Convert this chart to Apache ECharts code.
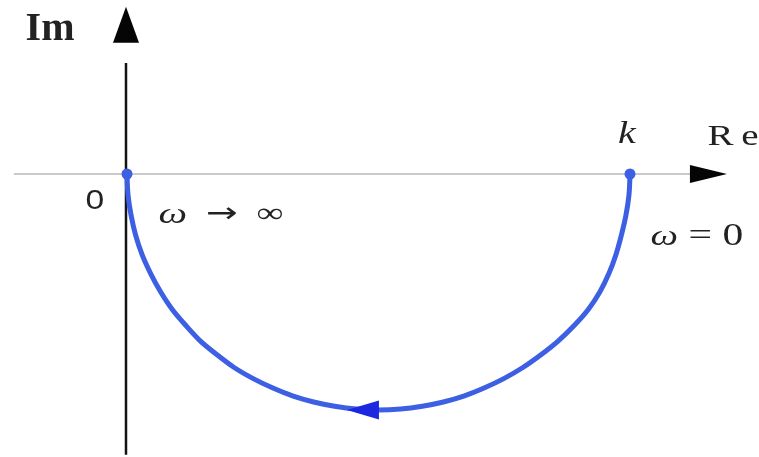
<!DOCTYPE html>
<html>
<head>
<meta charset="utf-8">
<script src="https://cdn.jsdelivr.net/npm/echarts@6/dist/echarts.min.js"></script>
<style>
  html, body { margin: 0; padding: 0; background: #fff; }
  #chart { width: 759px; height: 457px; }
</style>
</head>
<body>
<div id="chart"></div>
<script>
// Nyquist locus of the first-order lag G(jω) = k / (jωT + 1), drawn with k = 1.
// The locus runs from k (ω = 0) to the origin (ω → ∞) through the lower half-plane.
const curveRe = [1.000, 0.998, 0.992, 0.983, 0.972, 0.958, 0.940, 0.917, 0.889, 0.857, 0.823, 0.787,
                 0.750, 0.711, 0.671, 0.629, 0.587, 0.544, 0.500, 0.456, 0.413, 0.371, 0.329,
                 0.289, 0.250, 0.213, 0.179, 0.146, 0.117, 0.090, 0.067, 0.047, 0.030, 0.017,
                 0.008, 0.002, 0.000];
const curveIm = [0.000, -0.044, -0.087, -0.129, -0.171, -0.211, -0.250, -0.287, -0.321, -0.354, -0.383, -0.410,
                 -0.433, -0.453, -0.470, -0.483, -0.492, -0.498, -0.500, -0.498, -0.492, -0.483, -0.470,
                 -0.453, -0.433, -0.410, -0.383, -0.354, -0.321, -0.287, -0.250, -0.211, -0.171, -0.129,
                 -0.087, -0.044, 0.000];

// Locus end points: ω = 0 at k, ω → ∞ at the origin
const endRe = [1, 0];
const endIm = [0, 0];

// Axes of the complex plane (data units)
const realAxisRe = [-0.225, 1.123];
const imagAxisIm = [0.235, -0.595];
const imagArrow = [-0.002, 0.316];
const realArrow = [1.156, 0];
// Direction-of-travel arrow on the locus (increasing ω)
const flowArrow = [0.469, -0.5];

// Annotation texts and their anchors in the complex plane
const labelTexts = ['Im', 'R\u2009e', 'k', '0', '{w|ω}  {a|→}  ∞', '{w|ω} = 0'];
const labelRe = [-0.153, 1.205, 0.994, -0.064, 0.187, 1.133];
const labelIm = [0.305, 0.078, 0.083, -0.057, -0.087, -0.133];

// Plot layout: where the origin sits and how many pixels one unit spans on each axis
const W = 759, H = 457;
const ORIGIN_PX = [127, 174];
const UNIT_PX = [503, 472];
const xMin = -ORIGIN_PX[0] / UNIT_PX[0];
const xMax = xMin + W / UNIT_PX[0];
const yMax = ORIGIN_PX[1] / UNIT_PX[1];
const yMin = yMax - H / UNIT_PX[1];

const BLUE = '#3d5fe3';
const chart = echarts.init(document.getElementById('chart'), null, { renderer: 'canvas' });

const locus = curveRe.map((re, i) => [re, curveIm[i]]);

chart.setOption({
  animation: false,
  backgroundColor: '#ffffff',
  grid: { left: 0, right: 0, top: 0, bottom: 0 },
  xAxis: { type: 'value', min: xMin, max: xMax, show: false },
  yAxis: { type: 'value', min: yMin, max: yMax, show: false },
  series: [
    {
      name: 'Re axis', type: 'line', clip: false, silent: true, symbol: 'none', z: 1,
      data: realAxisRe.map(re => [re, 0]),
      lineStyle: { color: '#b9b9b9', width: 1.5 }
    },
    {
      name: 'Im axis', type: 'line', clip: false, silent: true, symbol: 'none', z: 2,
      data: imagAxisIm.map(im => [-0.002, im]),
      lineStyle: { color: '#141414', width: 2.5 }
    },
    {
      name: 'axis arrows', type: 'scatter', clip: false, silent: true, z: 3,
      symbol: 'triangle',
      itemStyle: { color: '#050505', opacity: 1 },
      data: [
        { value: imagArrow, symbolSize: [26, 36], symbolRotate: 0 },
        { value: realArrow, symbolSize: [18, 37], symbolRotate: -90 }
      ]
    },
    {
      name: 'G(jω)', type: 'line', clip: false, silent: true, smooth: 0.3, symbol: 'none', z: 4,
      data: locus,
      lineStyle: { color: BLUE, width: 5, cap: 'round', join: 'round' }
    },
    {
      name: 'end points', type: 'scatter', clip: false, silent: true, z: 5,
      symbol: 'circle', symbolSize: 11,
      itemStyle: { color: BLUE, opacity: 1 },
      data: endRe.map((re, i) => [re, endIm[i]])
    },
    {
      name: 'direction', type: 'scatter', clip: false, silent: true, z: 6,
      symbol: 'triangle', symbolSize: [19, 32], symbolRotate: 90,
      itemStyle: { color: '#1c28e0', opacity: 1 },
      data: [flowArrow]
    }
  ]
});

// Text annotations, anchored through the grid's coordinate system
const SERIF = '"Liberation Serif", "DejaVu Serif", serif';
const textStyles = [
  { font: 'bold 40px ' + SERIF, scaleX: 1.0 },
  { font: '30px ' + SERIF, scaleX: 1.3 },
  { font: 'italic 32px ' + SERIF, scaleX: 1.25 },
  { font: '28px "Liberation Sans", Arial, sans-serif', scaleX: 1.2 },
  { font: '28px ' + SERIF, scaleX: 1.35 },
  { font: '32px ' + SERIF, scaleX: 1.3 }
];

const graphics = labelTexts.map((t, i) => {
  const p = chart.convertToPixel({ gridIndex: 0 }, [labelRe[i], labelIm[i]]);
  return {
    type: 'text',
    x: p[0], y: p[1],
    scaleX: textStyles[i].scaleX, scaleY: 1,
    silent: true,
    z: 10,
    style: {
      text: t,
      font: textStyles[i].font,
      fill: '#222222',
      align: 'center',
      verticalAlign: 'middle',
      rich: {
        w: { fontStyle: 'italic', fontFamily: SERIF, fontSize: 30, fill: '#222222' },
        a: { fontFamily: '"DejaVu Sans", sans-serif', fontSize: 28, fill: '#222222' }
      }
    }
  };
});

chart.setOption({ graphic: graphics });
</script>
</body>
</html>
